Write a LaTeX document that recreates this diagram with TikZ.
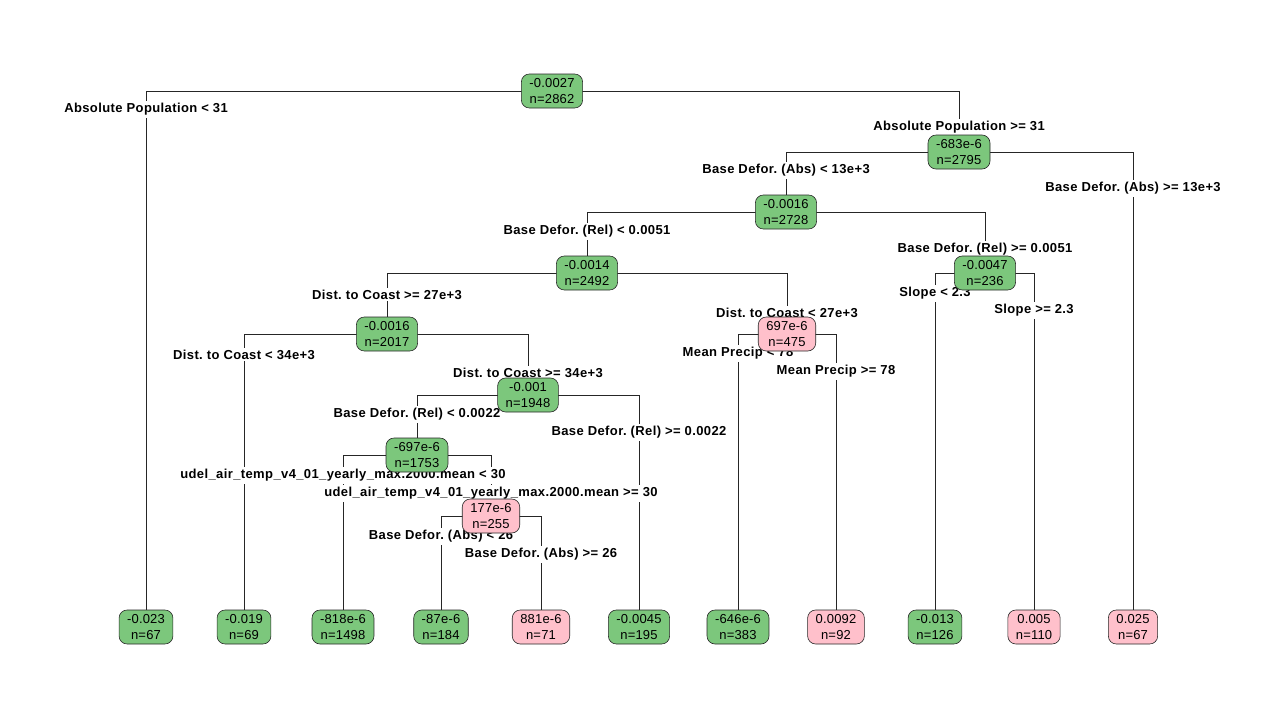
\documentclass[tikz,border=0pt]{standalone}
\usepackage{fontspec}
\setmainfont{Liberation Sans}
\pgfdeclarelayer{edges}
\pgfdeclarelayer{labels}
\pgfsetlayers{edges,labels,main}
\definecolor{leafgreen}{RGB}{124,199,124}
\definecolor{leafpink}{RGB}{255,192,203}
\frenchspacing
\begin{document}
\begin{tikzpicture}[x=1pt,y=-1pt,
  tnode/.style={draw=black!85, rounded corners=8pt, minimum height=34pt, inner xsep=8pt, inner ysep=1pt, align=center, font=\fontsize{13}{16.5}\selectfont\addfontfeature{LetterSpace=1.5}, line width=0.6pt},
  gn/.style={tnode, fill=leafgreen},
  pn/.style={tnode, fill=leafpink},
  lab/.style={fill=white, inner xsep=1pt, inner ysep=2pt, yshift=-1.5pt, font=\bfseries\fontsize{13}{15}\selectfont\addfontfeature{LetterSpace=3}},
  edge/.style={draw=black!85, line width=0.6pt}]
\useasboundingbox (0,0) rectangle (1280,720);
% internal nodes
\node[gn] (n1) at (552,91) {-0.0027\\n=2862};
\node[gn] (n3) at (959,152) {-683e-6\\n=2795};
\node[gn] (n6) at (786,212) {-0.0016\\n=2728};
\node[gn] (n12) at (587,273) {-0.0014\\n=2492};
\node[gn] (n13) at (985,273) {-0.0047\\n=236};
\node[gn] (n24) at (387,334) {-0.0016\\n=2017};
\node[pn] (n25) at (787,334) {697e-6\\n=475};
\node[gn] (n49) at (528,395) {-0.001\\n=1948};
\node[gn] (n98) at (417,455) {-697e-6\\n=1753};
\node[pn] (n197) at (491,516) {177e-6\\n=255};
% leaves
\node[gn] (l1) at (146,627) {-0.023\\n=67};
\node[gn] (l2) at (244,627) {-0.019\\n=69};
\node[gn] (l3) at (343,627) {-818e-6\\n=1498};
\node[gn] (l4) at (441,627) {-87e-6\\n=184};
\node[pn] (l5) at (541,627) {881e-6\\n=71};
\node[gn] (l6) at (639,627) {-0.0045\\n=195};
\node[gn] (l7) at (738,627) {-646e-6\\n=383};
\node[pn] (l8) at (836,627) {0.0092\\n=92};
\node[gn] (l9) at (935,627) {-0.013\\n=126};
\node[pn] (l10) at (1034,627) {0.005\\n=110};
\node[pn] (l11) at (1133,627) {0.025\\n=67};
% split labels
\begin{pgfonlayer}{labels}
\node[lab] (s1) at (146,108) {Absolute Population < 31};
\node[lab] (s2) at (959,126) {Absolute Population >= 31};
\node[lab] (s3) at (786,169) {Base Defor. (Abs) < 13e+3};
\node[lab] (s4) at (1133,187) {Base Defor. (Abs) >= 13e+3};
\node[lab] (s5) at (587,230) {Base Defor. (Rel) < 0.0051};
\node[lab] (s6) at (985,248) {Base Defor. (Rel) >= 0.0051};
\node[lab] (s7) at (387,293) {Dist. to Coast >= 27e+3};
\node[lab] (s8) at (787,311) {Dist. to Coast < 27e+3};
\node[lab] (s9) at (935,292) {Slope < 2.3};
\node[lab] (s10) at (1034,309) {Slope >= 2.3};
\node[lab] (s11) at (244,353) {Dist. to Coast < 34e+3};
\node[lab] (s12) at (528,371) {Dist. to Coast >= 34e+3};
\node[lab] (s13) at (738,352) {Mean Precip < 78};
\node[lab] (s14) at (836,370) {Mean Precip >= 78};
\node[lab] (s15) at (417,413) {Base Defor. (Rel) < 0.0022};
\node[lab] (s16) at (639,431) {Base Defor. (Rel) >= 0.0022};
\node[lab] (s17) at (343,474) {udel\_air\_temp\_v4\_01\_yearly\_max.2000.mean < 30};
\node[lab] (s18) at (491,492) {udel\_air\_temp\_v4\_01\_yearly\_max.2000.mean >= 30};
\node[lab] (s19) at (441,535) {Base Defor. (Abs) < 26};
\node[lab] (s20) at (541,553) {Base Defor. (Abs) >= 26};
\end{pgfonlayer}
% connectors
\begin{pgfonlayer}{edges}
\foreach \p/\c in {n1/l1, n1/n3, n3/n6, n3/l11, n6/n12, n6/n13, n12/n24, n12/n25,
  n13/l9, n13/l10, n24/l2, n24/n49, n25/l7, n25/l8, n49/n98, n49/l6, n98/l3, n98/n197,
  n197/l4, n197/l5}
  \draw[edge] (\p.center) -| (\c.north);
\end{pgfonlayer}
\end{tikzpicture}
\end{document}
